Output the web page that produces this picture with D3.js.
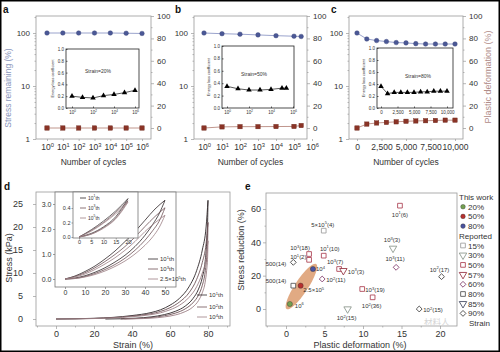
<!doctype html>
<html lang="en">
<head>
  <meta charset="utf-8">
  <title>Cycling figure</title>
  <style>
    * { margin: 0; padding: 0; }
    body { background: #fff; }
    svg { display: block; font-family: "Liberation Sans", Arial, sans-serif; }
  </style>
</head>
<body>
  <script src="https://cdn.jsdelivr.net/npm/d3@7"></script>
  <script>
    const W = 500, H = 352;

    // ---- panels a-c: cycling at 20 / 50 / 80 % strain
    const aCycles = [1, 10, 100, 1e3, 1e4, 1e5, 1e6];
    const aStress = [100, 100, 100, 100, 100, 99, 98];
    const aPlastic = [0, 0, 0, 0, 0, 0, 0];
    const aEnergy = [0.2, 0.18, 0.17, 0.21, 0.23, 0.26, 0.3];

    const bCycles = [1, 10, 100, 1e3, 1e4, 1e5, 2.5e5];
    const bStress = [100, 97, 95, 92, 89, 87, 86];
    const bPlastic = [0, 1, 1.2, 1.2, 1.3, 1.4, 2.2];
    const bEnergy = [0.35, 0.31, 0.29, 0.29, 0.3, 0.32, 0.32];

    const cCycles = [0, 1000, 2000, 3000, 4000, 5000, 6000, 7000, 8000, 9000, 10000];
    const cStress = [100, 77, 72, 69, 66, 65, 63, 62, 62, 62, 62];
    const cPlastic = [0, 3.5, 4.5, 5, 5.5, 6, 6.3, 6.5, 6.7, 7, 7];
    const cEnergy = [0.36, 0.24, 0.26, 0.26, 0.26, 0.26, 0.27, 0.27, 0.28, 0.28, 0.28];

    const stressTicks = [1, 10, 100];
    const plasticTicks = [0, 20, 40, 60, 80, 100];
    const energyTicks = [0, 0.2, 0.4, 0.6, 0.8, 1.0];
    const logCycleTicks = [1, 10, 100, 1e3, 1e4, 1e5, 1e6];
    const linCycleTicks = [0, 2500, 5000, 7500, 10000];
    const insetLogTicks = [1, 100, 1e4, 1e6];

    // ---- panel d: stress-strain loops
    const dNames = ['10^1th', '10^2th', '10^4th'];
    const dLoadStrain = [0, 10, 20, 30, 40, 50, 55, 60, 65, 70, 74, 77, 79, 80];
    const dLoad = [
      [0, 0.05, 0.15, 0.35, 0.75, 1.4, 2.0, 3.0, 4.5, 7.0, 10.5, 15.0, 20.0, 25.8],
      [0, 0.04, 0.12, 0.3, 0.62, 1.15, 1.65, 2.45, 3.7, 5.7, 8.6, 12.3, 16.4, 21.0],
      [0, 0.03, 0.1, 0.25, 0.5, 0.95, 1.35, 2.0, 3.0, 4.7, 7.0, 10.0, 13.3, 17.0]
    ];
    const dUnloadStrain = [
      [26, 34, 42, 50, 57, 63, 68, 72, 75, 77, 78.5, 79.3, 79.8, 80],
      [34, 42, 50, 57, 63, 68, 72, 75, 77, 78.5, 79.3, 79.8, 80],
      [36, 42, 50, 57, 63, 68, 72, 75, 77, 78.5, 79.3, 79.8, 80]
    ];
    const dUnload = [
      [0, 0.05, 0.18, 0.45, 0.95, 1.7, 2.8, 4.4, 6.5, 9, 12.5, 16.5, 21, 25.8],
      [0, 0.1, 0.32, 0.7, 1.3, 2.2, 3.5, 5.2, 7.3, 10.2, 13.4, 17, 21],
      [0, 0.05, 0.18, 0.45, 0.9, 1.6, 2.6, 4.0, 5.7, 8.0, 10.6, 13.5, 17]
    ];
    const dInNames = ['10^1th', '10^3th', '2.5\u00d710^5th'];
    const dInLoadStrain = [0, 5, 10, 15, 20, 25, 30, 35, 40, 45, 50];
    const dInLoad = [
      [0, 0.12, 0.3, 0.52, 0.8, 1.12, 1.5, 1.9, 2.35, 2.8, 3.15],
      [0, 0.1, 0.25, 0.45, 0.7, 0.98, 1.3, 1.68, 2.1, 2.5, 2.85],
      [0, 0.08, 0.2, 0.38, 0.6, 0.85, 1.15, 1.5, 1.9, 2.25, 2.55]
    ];
    const dInUnloadStrain = [0, 5, 10, 15, 20, 25, 30, 35, 40, 44, 47, 50];
    const dInUnload = [
      [0, 0.04, 0.13, 0.27, 0.45, 0.68, 0.95, 1.3, 1.75, 2.2, 2.6, 3.15],
      [0, 0.02, 0.1, 0.22, 0.38, 0.58, 0.83, 1.15, 1.55, 1.95, 2.3, 2.85],
      [0, 0.02, 0.08, 0.18, 0.32, 0.5, 0.72, 1.0, 1.35, 1.7, 2.05, 2.55]
    ];
    const dSmNames = ['10^1th', '10^3th', '10^5th'];
    const dSmStrain = [0, 5, 10, 15, 20];
    const dSmLoad = [[0, 0.1, 0.22, 0.36, 0.53], [0, 0.09, 0.2, 0.34, 0.5], [0, 0.08, 0.19, 0.32, 0.48]];
    const dSmUnload = [[0, 0.05, 0.14, 0.28, 0.53], [0, 0.04, 0.13, 0.26, 0.5], [0, 0.04, 0.12, 0.25, 0.48]];

    // ---- panel e: stress reduction vs plastic deformation
    const workStrain = ['20%', '50%', '80%'];
    const workPlastic = [0.5, 1.9, 3.5];
    const workReduction = [3, 14, 24];
    const workLabel = ['10^6', '2.5\u00d710^5', '10^4'];
    const repPlastic = [14.8, 4.9, 13.9, 14.3, 3.0, 3.0, 4.9, 0.95, 6.9, 7.45, 4.7, 0.95, 9.9, 11.25, 8.0, 17.3, 20.2];
    const repReduction = [62, 47, 36.4, 25, 33, 29.5, 32, 28, 24, 23, 18, 14, 12, 7, 0, 0, 19.4];
    const repStrain = ['50%', '15%', '30%', '60%', '50%', '50%', '50%', '90%', '50%', '57%', '60%', '80%', '50%', '50%', '30%', '90%', '90%'];
    const repLabel = ['10^1(6)', '5\u00d710^5(4)', '10^3(3)', '10^3(11)', '10^3(18)', '', '10^1(10)', '10^1(2)', '10^3(7)', '10^3(3)',
      '10^2(11)', '500(14)', '10^3(19)', '10^2(36)', '10^2(15)', '10^2(15)', '10^2(17)'];
    const legendStrain = ['15%', '30%', '50%', '57%', '60%', '80%', '85%', '90%'];

    // label placement for e (offset from the marker, anchor)
    const repLabelPos = [[0, 9, 'middle'], [-1, -6, 'middle'], [-1, -8, 'middle'], [-1, -8, 'middle'], [-9, -6, 'middle'], [0, 0, 'middle'],
      [6, -7, 'middle'], [5, -5, 'middle'], [-4, -7, 'middle'], [4.5, 1, 'start'], [4, 1, 'start'], [-7, -5, 'end'],
      [3, 1, 'start'], [-1, 9, 'middle'], [-1, 9, 'middle'], [4, 1, 'start'], [-2, -7, 'middle']];

    const FRAME = '#9a9a9a', TXT = '#333';
    const svg = d3.select('body').append('svg').attr('width', W).attr('height', H);
    svg.append('rect').attr('width', W).attr('height', H).attr('fill', '#fff');

    function rich(t, str, fs) {
      t.text(null);
      let up = false;
      str.split(/\^(\d+)/).forEach((p, i) => {
        const sup = i % 2 === 1;
        if (!sup && !p) return;
        const ts = t.append('tspan').text(p);
        if (sup) { ts.attr('font-size', fs * 0.68).attr('dy', -fs * 0.38); up = true; }
        else if (up) { ts.attr('dy', fs * 0.38); up = false; }
      });
    }
    function label(g, x, y, str, fs, o = {}) {
      const t = g.append('text').attr('x', x).attr('y', y).attr('font-size', fs)
        .attr('fill', o.fill || TXT).attr('text-anchor', o.anchor || 'start');
      if (o.rotate) t.attr('transform', `rotate(-90,${x},${y})`);
      if (o.weight) t.attr('font-weight', o.weight);
      if (o.mid) t.attr('dominant-baseline', 'central');
      rich(t, str, fs);
      return t;
    }
    function styleAxis(g, fs, col) {
      g.attr('font-size', fs).attr('font-family', null);
      g.select('.domain').remove();
      g.selectAll('.tick line').attr('stroke', col || FRAME).attr('stroke-width', 0.7);
      g.selectAll('.tick text').attr('fill', TXT);
      return g;
    }
    function frame(g, l, t, r, b, col, fill) {
      g.append('rect').attr('x', l).attr('y', t).attr('width', r - l).attr('height', b - t)
        .attr('fill', fill || 'none').attr('stroke', col || FRAME).attr('stroke-width', 0.8);
    }

    // ================= top row =================
    const TOP = 16, BOT = 139, IBOT = 108;
    const yStress = d3.scaleLog().domain([1, 100]).range([139, 33]);
    const yPlastic = d3.scaleLinear().domain([0, 100]).range([128, 16]);

    const panels = [
      { tag: 'a', tagX: 3, l: 36, r: 151, log: true, x: d3.scaleLog().domain([1, 1e6]).range([47, 142]),
        cycles: aCycles, stress: aStress, plastic: aPlastic, energy: aEnergy,
        il: 66, ir: 139, it: 49, ix: d3.scaleLog().domain([1, 1e6]).range([72, 135]), strain: 'Strain=20%', sx: 98, sy: 73 },
      { tag: 'b', tagX: 175, l: 194, r: 307, log: true, x: d3.scaleLog().domain([1, 1e6]).range([204, 312]),
        cycles: bCycles, stress: bStress, plastic: bPlastic, energy: bEnergy,
        il: 222, ir: 294, it: 46, ix: d3.scaleLog().domain([1, 1e6]).range([227, 293]), strain: 'Strain=50%', sx: 254, sy: 76 },
      { tag: 'c', tagX: 331, l: 349, r: 463, log: false, x: d3.scaleLinear().domain([0, 10000]).range([357, 455]),
        cycles: cCycles, stress: cStress, plastic: cPlastic, energy: cEnergy,
        il: 377, ir: 453, it: 48, ix: d3.scaleLinear().domain([0, 10000]).range([381, 447]), strain: 'Strain=80%', sx: 418, sy: 78 }
    ];

    panels.forEach(p => {
      const g = svg.append('g');
      const x = p.x;
      frame(g, p.l, TOP, p.r, BOT);

      styleAxis(g.append('g').attr('transform', `translate(${p.l},0)`)
        .call(d3.axisLeft(yStress).tickValues(stressTicks).tickSize(3).tickPadding(3).tickFormat(d3.format('d'))), 8);
      const minor = d3.range(2, 10).flatMap(k => [k, k * 10, k * 100]).filter(v => yStress(v) > TOP);
      styleAxis(g.append('g').attr('transform', `translate(${p.l},0)`)
        .call(d3.axisLeft(yStress).tickValues(minor).tickSize(1.5).tickFormat('')), 8);

      styleAxis(g.append('g').attr('transform', `translate(${p.r},0)`)
        .call(d3.axisRight(yPlastic).tickValues(plasticTicks).tickSize(3).tickPadding(3)), 8);
      styleAxis(g.append('g').attr('transform', `translate(${p.r},0)`)
        .call(d3.axisRight(yPlastic).tickValues([10, 30, 50, 70, 90]).tickSize(1.5).tickFormat('')), 8);

      const bottom = styleAxis(g.append('g').attr('transform', `translate(0,${BOT})`)
        .call(d3.axisBottom(x).tickValues(p.log ? logCycleTicks : linCycleTicks).tickSize(2).tickPadding(3)
          .tickFormat(p.log ? null : d3.format(','))), 8.5);
      if (p.log) bottom.selectAll('.tick text').each(function (d) { rich(d3.select(this), '10^' + Math.round(Math.log10(d)), 8.5); });

      // stress remaining (left) and plastic deformation (right)
      const sPts = p.cycles.map((c, i) => [x(c), yStress(p.stress[i])]);
      const pPts = p.cycles.map((c, i) => [x(c), yPlastic(p.plastic[i])]);
      g.append('path').attr('d', d3.line()(sPts)).attr('fill', 'none').attr('stroke', '#8f99c6').attr('stroke-width', 0.9);
      g.append('path').attr('d', d3.line()(pPts)).attr('fill', 'none').attr('stroke', '#b98a80').attr('stroke-width', 0.9);
      g.selectAll(null).data(sPts).join('circle').attr('cx', d => d[0]).attr('cy', d => d[1]).attr('r', 2.3)
        .attr('fill', '#4b5896').attr('stroke', '#3a4478').attr('stroke-width', 0.4);
      g.selectAll(null).data(pPts).join('rect').attr('x', d => d[0] - 2.2).attr('y', d => d[1] - 2.2)
        .attr('width', 4.4).attr('height', 4.4).attr('fill', '#8a3326').attr('stroke', '#6a2418').attr('stroke-width', 0.4);

      // inset: energy loss coefficient
      const iy = d3.scaleLinear().domain([0, 1]).range([IBOT, p.it]);
      frame(g, p.il, p.it, p.ir, IBOT, '#222', '#fff');
      styleAxis(g.append('g').attr('transform', `translate(${p.il},0)`)
        .call(d3.axisLeft(iy).tickValues(energyTicks).tickSize(-1.5).tickPadding(2).tickFormat(d3.format('.1f'))), 4.5, '#222');
      const ib = styleAxis(g.append('g').attr('transform', `translate(0,${IBOT})`)
        .call(d3.axisBottom(p.ix).tickValues(p.log ? insetLogTicks : linCycleTicks).tickSize(-1.5).tickPadding(2.5)
          .tickFormat(p.log ? null : d3.format(','))), 4.5, '#222');
      if (p.log) ib.selectAll('.tick text').each(function (d) { rich(d3.select(this), '10^' + Math.round(Math.log10(d)), 4.5); });
      const ePts = p.cycles.map((c, i) => [p.ix(c), iy(p.energy[i])]);
      g.append('path').attr('d', d3.line()(ePts)).attr('fill', 'none').attr('stroke', '#111').attr('stroke-width', 0.7);
      g.selectAll(null).data(ePts).join('path').attr('d', d3.symbol(d3.symbolTriangle, 13))
        .attr('transform', d => `translate(${d[0]},${d[1]})`).attr('fill', '#000');
      label(g, p.il - 12, (IBOT + p.it) / 2, 'Energy loss coefficient', 3.8, { anchor: 'middle', rotate: true });
      label(g, p.sx, p.sy, p.strain, 5, { anchor: 'middle' });

      label(g, (p.l + p.r) / 2, 165, 'Number of cycles', 8.5, { anchor: 'middle' });
      label(g, p.tagX, 13, p.tag, 10, { weight: 'bold', fill: '#111' });
    });
    label(svg, 11, 88, 'Stress remaining (%)', 8.5, { anchor: 'middle', rotate: true, fill: '#8a96bb' });
    label(svg, 491, 77, 'Plastic deformation (%)', 9, { anchor: 'middle', rotate: true, fill: '#b08c88' });

    // ================= panel d =================
    const loopCols = ['#2e2628', '#6e5257', '#9c7f84'];
    function drawLoops(g, xs, ys, loadX, loads, unloadX, unloads, w) {
      const ln = d3.line().x(d => xs(d[0])).y(d => ys(d[1])).curve(d3.curveMonotoneX);
      loads.forEach((arr, k) => {
        const ux = Array.isArray(unloadX[0]) ? unloadX[k] : unloadX;
        g.append('path').attr('d', ln(loadX.map((s, i) => [s, arr[i]])))
          .attr('fill', 'none').attr('stroke', loopCols[k]).attr('stroke-width', w);
        g.append('path').attr('d', ln(ux.map((s, i) => [s, unloads[k][i]])))
          .attr('fill', 'none').attr('stroke', loopCols[k]).attr('stroke-width', w);
      });
    }
    function loopLegend(g, x0, x1, ys, names, fs) {
      names.forEach((n, k) => {
        g.append('line').attr('x1', x0).attr('x2', x1).attr('y1', ys[k]).attr('y2', ys[k])
          .attr('stroke', loopCols[k]).attr('stroke-width', 0.8);
        label(g, x1 + 2, ys[k], n, fs, { mid: true });
      });
    }

    const gd = svg.append('g');
    const dx = d3.scaleLinear().domain([0, 80]).range([56, 208]);
    const dy = d3.scaleLinear().domain([0, 25]).range([319, 204]);
    frame(gd, 36, 192, 230, 326);
    styleAxis(gd.append('g').attr('transform', 'translate(0,326)')
      .call(d3.axisBottom(dx).tickValues([0, 20, 40, 60, 80]).tickSize(3).tickPadding(2)), 9);
    styleAxis(gd.append('g').attr('transform', 'translate(0,326)')
      .call(d3.axisBottom(dx).tickValues([-10, 10, 30, 50, 70, 90]).tickSize(1.5).tickFormat('')), 9);
    styleAxis(gd.append('g').attr('transform', 'translate(36,0)')
      .call(d3.axisLeft(dy).tickValues([0, 5, 10, 15, 20, 25]).tickSize(3).tickPadding(10)), 9);
    drawLoops(gd, dx, dy, dLoadStrain, dLoad, dUnloadStrain, dUnload, 0.9);
    loopLegend(gd, 197, 207, [295, 307, 317], dNames, 6);
    label(gd, 133, 347.5, 'Strain (%)', 9, { anchor: 'middle' });
    label(gd, 12, 258, 'Stress (kPa)', 9, { anchor: 'middle', rotate: true });
    label(gd, 4, 190, 'd', 10, { weight: 'bold', fill: '#111' });

    // inset: loops to 50 %
    const d1x = d3.scaleLinear().domain([0, 50]).range([65, 165]);
    const d1y = d3.scaleLinear().domain([0, 3]).range([279, 204]);
    frame(gd, 55, 192, 176, 287, '#777', '#fff');
    styleAxis(gd.append('g').attr('transform', 'translate(0,287)')
      .call(d3.axisBottom(d1x).tickValues([0, 10, 20, 30, 40, 50]).tickSize(2).tickPadding(1.5)), 7, '#777');
    styleAxis(gd.append('g').attr('transform', 'translate(55,0)')
      .call(d3.axisLeft(d1y).tickValues([0, 1, 2, 3]).tickSize(2).tickPadding(1.5)), 7, '#777');
    drawLoops(gd, d1x, d1y, dInLoadStrain, dInLoad, dInUnloadStrain, dInUnload, 0.8);
    loopLegend(gd, 148, 158, [259, 269, 279], dInNames, 6);

    // inset: loops to 20 %
    const d2x = d3.scaleLinear().domain([0, 20]).range([79, 128]);
    const d2y = d3.scaleLinear().domain([0, 0.4]).range([237, 208]);
    frame(gd, 73, 192, 138, 238, '#777', '#fff');
    styleAxis(gd.append('g').attr('transform', 'translate(0,238)')
      .call(d3.axisBottom(d2x).tickValues([0, 5, 10, 15, 20]).tickSize(1.5).tickPadding(1)), 5.5, '#777');
    styleAxis(gd.append('g').attr('transform', 'translate(73,0)')
      .call(d3.axisLeft(d2y).tickValues([0, 0.2, 0.4]).tickSize(1.5).tickPadding(1).tickFormat(d3.format('.1f'))), 5.5, '#777');
    drawLoops(gd, d2x, d2y, dSmStrain, dSmLoad, dSmStrain, dSmUnload, 0.7);
    loopLegend(gd, 80, 86, [198, 208, 218], dSmNames, 5);

    // ================= panel e =================
    const ge = svg.append('g');
    const ex = d3.scaleLinear().domain([0, 20]).range([286, 440]);
    const ey = d3.scaleLinear().domain([0, 60]).range([309, 209]);
    frame(ge, 266, 193, 457, 326);
    styleAxis(ge.append('g').attr('transform', 'translate(0,326)')
      .call(d3.axisBottom(ex).tickValues([0, 5, 10, 15, 20]).tickSize(3).tickPadding(2)), 9);
    styleAxis(ge.append('g').attr('transform', 'translate(0,326)')
      .call(d3.axisBottom(ex).tickValues([-2.5, 2.5, 7.5, 12.5, 17.5]).tickSize(1.5).tickFormat('')), 9);
    styleAxis(ge.append('g').attr('transform', 'translate(266,0)')
      .call(d3.axisLeft(ey).tickValues([0, 20, 40, 60]).tickSize(3).tickPadding(2)), 9);
    styleAxis(ge.append('g').attr('transform', 'translate(266,0)')
      .call(d3.axisLeft(ey).tickValues([10, 30, 50]).tickSize(1.5).tickFormat('')), 9);

    // watermark sits under the marks
    label(ge, 424, 324.5, '材料人', 8.5, { fill: '#d4d4d4' }).attr('font-family', '"Noto Sans CJK SC"');

    // highlight of this work
    const x0 = ex(workPlastic[0]), y0 = ey(workReduction[0]), x1 = ex(workPlastic[2]), y1 = ey(workReduction[2]);
    const ang = Math.atan2(y1 - y0, x1 - x0) * 180 / Math.PI;
    ge.append('ellipse').attr('cx', 0).attr('cy', 0).attr('rx', Math.hypot(x1 - x0, y1 - y0) / 2 + 6).attr('ry', 6.5)
      .attr('transform', `translate(${(x0 + x1) / 2},${(y0 + y1) / 2}) rotate(${ang})`)
      .attr('fill', '#dea176').attr('opacity', 0.9);

    const shapeOf = { '15%': 'sq', '30%': 'tri', '50%': 'sq', '57%': 'tri', '60%': 'dia', '80%': 'sq', '85%': 'tri', '90%': 'dia' };
    const colorOf = { '15%': '#a2a2a2', '30%': '#8e9a90', '50%': '#b04a5a', '57%': '#9a3a4a', '60%': '#8a4a78',
      '80%': '#5a5a5a', '85%': '#4a5068', '90%': '#505050' };
    const workCol = { '20%': '#74a050', '50%': '#b8302e', '80%': '#4a52a0' };
    function marker(g, s, px, py) {
      const sh = shapeOf[s];
      const d = sh === 'tri' ? d3.symbol(d3.symbolTriangle, 24)() : d3.symbol(d3.symbolSquare, sh === 'dia' ? 17 : 22)();
      const rot = sh === 'tri' ? 180 : sh === 'dia' ? 45 : 0;
      g.append('path').attr('d', d).attr('transform', `translate(${px},${py}) rotate(${rot})`)
        .attr('fill', '#fff').attr('stroke', colorOf[s]).attr('stroke-width', 0.9);
    }
    repPlastic.forEach((v, i) => {
      const px = ex(v), py = ey(repReduction[i]);
      marker(ge, repStrain[i], px, py);
      const lp = repLabelPos[i];
      if (repLabel[i]) label(ge, px + lp[0], py + lp[1], repLabel[i], 6, { anchor: lp[2], mid: true });
    });
    // second label shared with the 500-cycle point on the left
    label(ge, ex(repPlastic[7]) - 7, ey(repReduction[7]) + 2, '500(14)', 6, { anchor: 'end', mid: true });

    const workPos = [[5, 1.5], [2.7, 4.7], [3, 0]];
    workPlastic.forEach((v, i) => {
      const px = ex(v), py = ey(workReduction[i]);
      ge.append('circle').attr('cx', px).attr('cy', py).attr('r', 2.6)
        .attr('fill', workCol[workStrain[i]]).attr('stroke', '#333').attr('stroke-width', 0.4);
      label(ge, px + workPos[i][0], py + workPos[i][1], workLabel[i], 6, { mid: true });
    });

    label(ge, 360, 347.5, 'Plastic deformation (%)', 9, { anchor: 'middle' });
    label(ge, 244, 250, 'Stress reduction (%)', 9, { anchor: 'middle', rotate: true });
    label(ge, 245, 190, 'e', 10, { weight: 'bold', fill: '#111' });

    // legend
    const LX = 463, step = 9.7;
    let ly = 197;
    label(ge, 459, ly, 'This work', 8, { mid: true });
    workStrain.forEach(s => {
      ly += step;
      ge.append('circle').attr('cx', LX).attr('cy', ly).attr('r', 2.3).attr('fill', workCol[s]).attr('stroke', '#333').attr('stroke-width', 0.4);
      label(ge, LX + 5, ly, s, 8, { mid: true });
    });
    ly += step;
    label(ge, 459, ly, 'Reported', 8, { mid: true });
    legendStrain.forEach(s => {
      ly += step;
      marker(ge, s, LX, ly);
      label(ge, LX + 5, ly, s, 8, { mid: true });
    });
    ly += step;
    label(ge, LX + 6, ly, 'Strain', 8, { mid: true });

    // outer border
    svg.append('rect').attr('x', 0.75).attr('y', 0.75).attr('width', W - 1.5).attr('height', H - 1.5)
      .attr('fill', 'none').attr('stroke', '#000').attr('stroke-width', 1.5);
  </script>
</body>
</html>
